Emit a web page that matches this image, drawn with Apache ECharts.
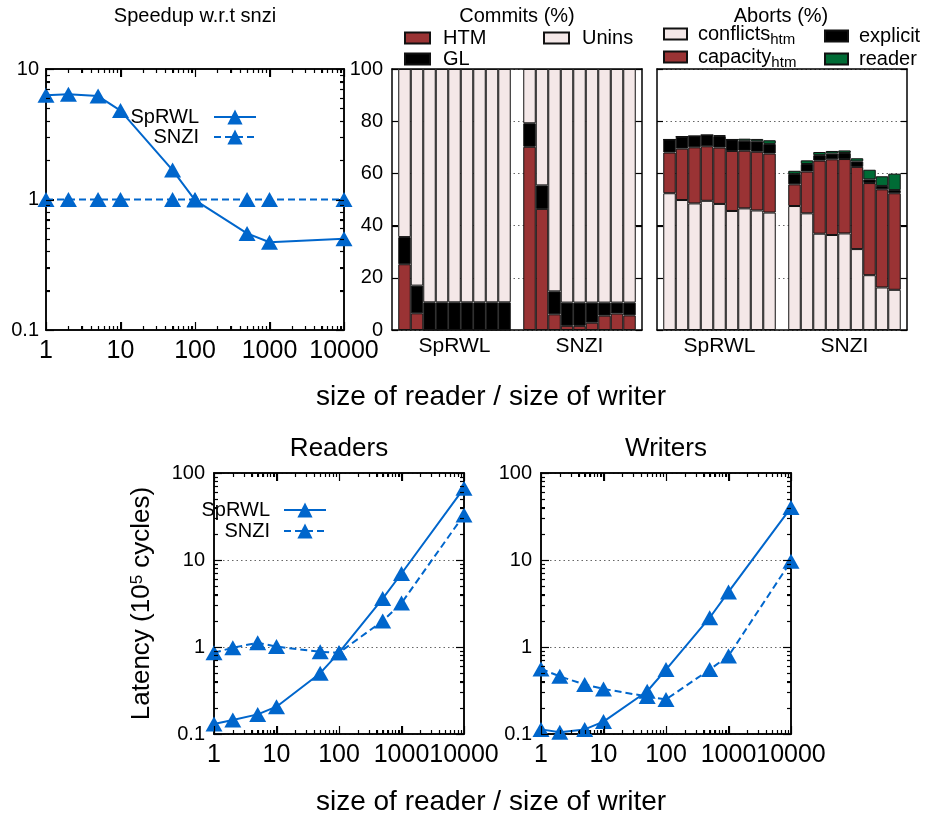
<!DOCTYPE html>
<html>
<head>
<meta charset="utf-8">
<script src="https://cdn.jsdelivr.net/npm/echarts@6/dist/echarts.min.js"></script>
<style>html,body{margin:0;padding:0;background:#fff}#c{width:926px;height:822px}</style>
</head>
<body>
<div id="c"></div>
<script>
// ---------- data ----------
const ratios = [1, 2, 5, 10, 50, 100, 500, 1000, 10000];
const xTicks = [1, 10, 100, 1000, 10000];
const speedupTicks = [0.1, 1, 10];
const latencyTicks = [0.1, 1, 10, 100];
const pctTicks = [0, 20, 40, 60, 80, 100];

const speedupSpRWL = [6.3, 6.4, 6.2, 4.8, 1.68, 0.99, 0.55, 0.47, 0.50];
const speedupSNZI  = [1, 1, 1, 1, 1, 1, 1, 1, 1];

const readersSpRWL = [0.13, 0.145, 0.168, 0.206, 0.50, 0.86, 3.6, 7.0, 67];
const readersSNZI  = [0.86, 0.98, 1.12, 1.01, 0.88, 0.86, 1.99, 3.2, 33];
const writersSpRWL = [0.113, 0.105, 0.113, 0.139, 0.31, 0.55, 2.17, 4.3, 40];
const writersSNZI  = [0.56, 0.46, 0.37, 0.33, 0.27, 0.25, 0.55, 0.79, 9.7];

const groups = ['SpRWL', 'SNZI'];

const commitsHTM_SpRWL   = [25.2, 6.4, 0, 0, 0, 0, 0, 0, 0];
const commitsGL_SpRWL    = [10.4, 10.6, 10.6, 10.6, 10.6, 10.6, 10.6, 10.6, 10.6];
const commitsUnins_SpRWL = [64.4, 83.0, 89.4, 89.4, 89.4, 89.4, 89.4, 89.4, 89.4];
const commitsHTM_SNZI    = [70.2, 46.4, 6.0, 1.6, 1.6, 2.8, 5.5, 6.3, 5.6];
const commitsGL_SNZI     = [9.0, 9.0, 8.8, 8.9, 8.9, 7.7, 5.0, 4.2, 4.9];
const commitsUnins_SNZI  = [20.8, 44.6, 85.2, 89.5, 89.5, 89.5, 89.5, 89.5, 89.5];

const abortsConflicts_SpRWL = [52.4, 49.8, 48.5, 49.5, 48.3, 45.6, 46.6, 45.8, 45.0];
const abortsCapacity_SpRWL  = [15.6, 19.7, 21.5, 20.9, 21.6, 23.0, 22.1, 22.5, 22.6];
const abortsExplicit_SpRWL  = [5.0, 4.6, 4.3, 4.3, 4.4, 4.4, 3.8, 4.0, 3.7];
const abortsReader_SpRWL    = [0, 0, 0, 0, 0.3, 0, 0.8, 0.9, 1.4];
const abortsConflicts_SNZI  = [47.5, 44.7, 36.9, 36.4, 37.0, 31.0, 21.0, 16.3, 15.4];
const abortsCapacity_SNZI   = [8.3, 16.0, 28.0, 29.0, 28.5, 31.5, 35.3, 37.6, 37.0];
const abortsExplicit_SNZI   = [4.0, 2.9, 2.1, 2.2, 2.3, 2.1, 1.4, 1.3, 1.2];
const abortsReader_SNZI     = [1.2, 1.4, 1.2, 1.0, 1.0, 1.2, 3.7, 3.7, 6.3];

// ---------- styles ----------
const FONT = 'Liberation Sans, Arial, Helvetica, sans-serif';
const BLUE = '#0066cc';
const PINK = '#f4e8e8';
const BROWN = '#9a3334';
const GREEN = '#006b35';
const BLACK = '#000000';

function logMinors(lo, hi) { // minor tick values between decades lo..hi (exponents)
  const v = [];
  for (let e = lo; e < hi; e++) for (let k = 2; k <= 9; k++) v.push(+(k * Math.pow(10, e)).toPrecision(6));
  return v;
}

const xAxes = [], yAxes = [];
function tickLine() { return { color: '#000', width: 1 }; }
function frameLine() { return { show: true, onZero: false, lineStyle: { color: '#000', width: 1.5 } }; }
function dotted() { return { show: true, lineStyle: { type: [1.5, 3], color: '#666', width: 1 } }; }

function addLogAxes(list, grid, dir, min, max, majors, minors, labelOpt, extra) {
  const mainPos = dir === 'x' ? 'bottom' : 'left';
  const mirPos = dir === 'x' ? 'top' : 'right';
  const base = () => ({ gridIndex: grid, type: 'log', logBase: 10, min, max,
    axisLine: frameLine(), splitLine: { show: false }, axisLabel: { show: false } });
  const idx = list.length;
  list.push(Object.assign(base(), {
    position: mainPos,
    axisTick: { show: true, inside: true, length: 8, customValues: majors, lineStyle: tickLine() },
    axisLabel: Object.assign({ show: true, customValues: majors, color: '#000', fontFamily: FONT,
      formatter: v => String(+(+v).toPrecision(6)) }, labelOpt)
  }, extra || {}));
  list.push(Object.assign(base(), { position: mainPos,
    axisTick: { show: true, inside: true, length: 4, customValues: minors, lineStyle: tickLine() } }));
  list.push(Object.assign(base(), { position: mirPos,
    axisTick: { show: true, inside: true, length: 8, customValues: majors, lineStyle: tickLine() } }));
  list.push(Object.assign(base(), { position: mirPos,
    axisTick: { show: true, inside: true, length: 4, customValues: minors, lineStyle: tickLine() } }));
  return idx;
}

// grid 0: speedup
const gx0 = addLogAxes(xAxes, 0, 'x', 1, 10000, xTicks, logMinors(0, 4), { fontSize: 25, margin: 9 });
const gy0 = addLogAxes(yAxes, 0, 'y', 0.1, 10, speedupTicks, logMinors(-1, 1), { fontSize: 20, margin: 7 });
// grid 3: readers
const gx3 = addLogAxes(xAxes, 3, 'x', 1, 10000, xTicks, logMinors(0, 4), { fontSize: 25, margin: 9 });
const gy3 = addLogAxes(yAxes, 3, 'y', 0.1, 100, latencyTicks, logMinors(-1, 2), { fontSize: 20, margin: 9 }, {
  splitLine: dotted(),
  name: 'Latency (10{sup|5} cycles)', nameLocation: 'middle', nameRotate: 90, nameGap: 59,
  nameTextStyle: { fontSize: 26, color: '#000', fontFamily: FONT,
    rich: { sup: { fontSize: 17, color: '#000', fontFamily: FONT, verticalAlign: 'top' } } }
});
// grid 4: writers
const gx4 = addLogAxes(xAxes, 4, 'x', 1, 10000, xTicks, logMinors(0, 4), { fontSize: 25, margin: 9 });
const gy4 = addLogAxes(yAxes, 4, 'y', 0.1, 100, latencyTicks, logMinors(-1, 2), { fontSize: 20, margin: 9 }, { splitLine: dotted() });

// bar grids (1: commits, 2: aborts)
const barCats = [''];
groups.forEach((g, gi) => {
  ratios.forEach(r => barCats.push(g + '|' + r));
  barCats.push(gi < groups.length - 1 ? 'gap' : '');
});
const midIdx = Math.floor(ratios.length / 2);
function addBarAxes(grid, showLabels) {
  const xi = xAxes.length;
  xAxes.push({ gridIndex: grid, type: 'category', position: 'bottom', boundaryGap: false, data: barCats,
    axisLine: frameLine(), axisTick: { show: false }, splitLine: { show: false },
    axisLabel: { show: true, fontSize: 21, color: '#000', fontFamily: FONT, margin: 6,
      interval: (i, v) => { const p = v.split('|'); return p.length === 2 && p[1] === String(ratios[midIdx]); },
      formatter: v => v.split('|')[0] } });
  xAxes.push({ gridIndex: grid, type: 'category', position: 'top', boundaryGap: false, data: barCats,
    axisLine: frameLine(), axisTick: { show: false }, splitLine: { show: false }, axisLabel: { show: false } });
  const yi = yAxes.length;
  yAxes.push({ gridIndex: grid, type: 'value', position: 'left', min: 0, max: 100, interval: 20,
    axisLine: frameLine(), splitLine: dotted(),
    axisTick: { show: true, inside: true, length: 6, lineStyle: tickLine() },
    axisLabel: { show: showLabels, fontSize: 20, color: '#000', fontFamily: FONT, margin: 9 } });
  yAxes.push({ gridIndex: grid, type: 'value', position: 'right', min: 0, max: 100, interval: 20,
    axisLine: frameLine(), splitLine: { show: false },
    axisTick: { show: true, inside: true, length: 6, lineStyle: tickLine() }, axisLabel: { show: false } });
  return [xi, yi];
}
const [bx1, by1] = addBarAxes(1, true);
const [bx2, by2] = addBarAxes(2, false);

function padGroups(a, b) { return [null].concat(a, [null], b, [null]); }

// ---------- series ----------
const series = [];
function lineSeries(name, xi, yi, values, dashed) {
  return { type: 'line', name, xAxisIndex: xi, yAxisIndex: yi,
    data: ratios.map((r, i) => [r, values[i]]),
    symbol: 'triangle', symbolSize: [17, 15], showAllSymbol: true, clip: false,
    color: BLUE, itemStyle: { color: BLUE },
    lineStyle: { color: BLUE, width: 2, type: dashed ? [7, 4] : 'solid' }, z: 3 };
}
series.push(lineSeries('SpRWL', gx0, gy0, speedupSpRWL, false));
series.push(lineSeries('SNZI', gx0, gy0, speedupSNZI, true));
series.push(lineSeries('SpRWL', gx3, gy3, readersSpRWL, false));
series.push(lineSeries('SNZI', gx3, gy3, readersSNZI, true));
series.push(lineSeries('SpRWL', gx4, gy4, writersSpRWL, false));
series.push(lineSeries('SNZI', gx4, gy4, writersSNZI, true));

function barSeries(name, xi, yi, stack, a, b, color) {
  return { type: 'bar', name, xAxisIndex: xi, yAxisIndex: yi, stack,
    data: padGroups(a, b), barCategoryGap: '0%', barGap: '0%',
    itemStyle: { color, borderColor: '#111', borderWidth: 1 } };
}
series.push(barSeries('HTM', bx1, by1, 'c', commitsHTM_SpRWL, commitsHTM_SNZI, BROWN));
series.push(barSeries('GL', bx1, by1, 'c', commitsGL_SpRWL, commitsGL_SNZI, BLACK));
series.push(barSeries('Unins', bx1, by1, 'c', commitsUnins_SpRWL, commitsUnins_SNZI, PINK));
series.push(barSeries('conflicts_htm', bx2, by2, 'a', abortsConflicts_SpRWL, abortsConflicts_SNZI, PINK));
series.push(barSeries('capacity_htm', bx2, by2, 'a', abortsCapacity_SpRWL, abortsCapacity_SNZI, BROWN));
series.push(barSeries('explicit', bx2, by2, 'a', abortsExplicit_SpRWL, abortsExplicit_SNZI, BLACK));
series.push(barSeries('reader', bx2, by2, 'a', abortsReader_SpRWL, abortsReader_SNZI, GREEN));

// tick marks (gnuplot style: inward, mirrored on all sides), positioned through the axes' scales
// codes: 1 = x major, 2 = x minor, 3 = y major, 4 = y minor
function tickItems(xMaj, xMin, yMaj, yMin) {
  const it = [];
  xMaj.forEach(v => it.push([v, 1])); xMin.forEach(v => it.push([v, 2]));
  yMaj.forEach(v => it.push([v, 3])); yMin.forEach(v => it.push([v, 4]));
  return it;
}
function tickSeries(xi, yi, items, xRef, yRef, majLen, minLen) {
  return { type: 'custom', xAxisIndex: xi, yAxisIndex: yi, silent: true, z: 5, clip: false,
    dimensions: ['v', 'k'], encode: { x: 'k', y: 'k' }, data: items, tooltip: { show: false },
    renderItem: function (params, api) {
      const cs = params.coordSys;
      const v = api.value('v'), k = api.value('k');
      const len = (k === 1 || k === 3) ? majLen : minLen;
      const st = { stroke: '#000', lineWidth: 1.2 };
      const ch = [];
      if (k <= 2) {
        const x = Math.round(api.coord([v, yRef])[0]) + 0.5;
        const b = cs.y + cs.height, t = cs.y;
        ch.push({ type: 'line', shape: { x1: x, y1: b, x2: x, y2: b - len }, style: st });
        ch.push({ type: 'line', shape: { x1: x, y1: t, x2: x, y2: t + len }, style: st });
      } else {
        const y = Math.round(api.coord([xRef, v])[1]) + 0.5;
        const l = cs.x, r = cs.x + cs.width;
        ch.push({ type: 'line', shape: { x1: l, y1: y, x2: l + len, y2: y }, style: st });
        ch.push({ type: 'line', shape: { x1: r, y1: y, x2: r - len, y2: y }, style: st });
      }
      return { type: 'group', children: ch };
    } };
}
series.push(tickSeries(gx0, gy0, tickItems(xTicks, logMinors(0, 4), speedupTicks, logMinors(-1, 1)), 1, 1, 8, 4));
series.push(tickSeries(gx3, gy3, tickItems(xTicks, logMinors(0, 4), latencyTicks, logMinors(-1, 2)), 1, 1, 8, 4));
series.push(tickSeries(gx4, gy4, tickItems(xTicks, logMinors(0, 4), latencyTicks, logMinors(-1, 2)), 1, 1, 8, 4));
series.push(tickSeries(bx1, by1, tickItems([], [], pctTicks, []), 0, 0, 6, 6));
series.push(tickSeries(bx2, by2, tickItems([], [], pctTicks, []), 0, 0, 6, 6));

// ---------- legends ----------
function lineLegend(name, right, top, gap) {
  return { data: [name], right, top, padding: 0, align: 'right', itemWidth: 42, itemHeight: 19,
    textStyle: { fontSize: 20, color: '#000', fontFamily: FONT, padding: [0, gap, 0, 0] } };
}
const subRich = { sub: { fontSize: 15, color: '#000', fontFamily: FONT, padding: [12, 0, 0, 0], verticalAlign: 'top' } };
function barLegend(name, left, top, itemWidth, padLeft) {
  return { data: [name], left, top, padding: 0, align: 'left', icon: 'rect', itemWidth, itemHeight: 11,
    formatter: n => n.replace(/_(\w+)/, '{sub|$1}'),
    textStyle: { fontSize: 20, color: '#000', fontFamily: FONT, padding: [0, 0, 0, padLeft], rich: subRich } };
}

// ---------- titles ----------
function ttl(text, cx, top, size) {
  return { text, left: cx, top, textAlign: 'center', padding: 0,
    textStyle: { fontSize: size, fontWeight: 'normal', color: '#000', fontFamily: FONT } };
}

const option = {
  animation: false,
  title: [
    ttl('Speedup w.r.t snzi', 195, 6, 20),
    ttl('Commits (%)', 517, 6, 20),
    ttl('Aborts (%)', 781, 6, 20),
    ttl('size of reader / size of writer', 491, 383, 28),
    ttl('Readers', 339, 436, 26),
    ttl('Writers', 666, 436, 26),
    ttl('size of reader / size of writer', 491, 788, 28)
  ],
  legend: [
    lineLegend('SpRWL', 926 - 257, 107, 10),
    lineLegend('SNZI', 926 - 257, 127, 10),
    lineLegend('SpRWL', 926 - 327, 500, 9),
    lineLegend('SNZI', 926 - 327, 521, 9),
    barLegend('HTM', 404, 28, 25, 8),
    barLegend('Unins', 543, 28, 25, 8),
    barLegend('GL', 404, 49, 25, 8),
    barLegend('conflicts_htm', 663, 24, 23, 6),
    barLegend('capacity_htm', 663, 47, 23, 6),
    barLegend('explicit', 824, 26, 23, 6),
    barLegend('reader', 824, 49, 23, 6)
  ],
  grid: [
    { left: 46, top: 69, width: 298, height: 261 },
    { left: 392, top: 69, width: 250, height: 261 },
    { left: 657, top: 69, width: 250, height: 261 },
    { left: 214, top: 473, width: 250, height: 261 },
    { left: 541, top: 473, width: 250, height: 261 }
  ],
  xAxis: xAxes,
  yAxis: yAxes,
  series
};

const chart = echarts.init(document.getElementById('c'), null, { renderer: 'canvas' });
chart.setOption(option);
</script>
</body>
</html>
